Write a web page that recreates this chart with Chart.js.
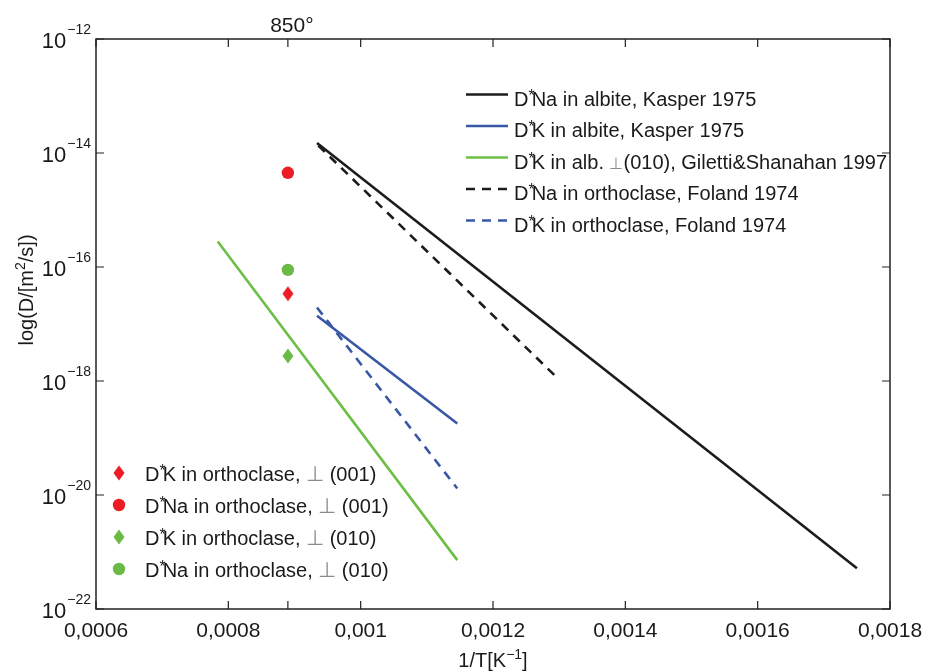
<!DOCTYPE html>
<html><head><meta charset="utf-8">
<script src="https://cdn.jsdelivr.net/npm/chart.js@4/dist/chart.umd.min.js"></script>
<style>html,body{margin:0;background:#fff}#wrap{width:928px;height:671px}</style>
</head><body><div id="wrap"><canvas id="c"></canvas></div>
<script>
const xTicks = [0.0006, 0.0008, 0.001, 0.0012, 0.0014, 0.0016, 0.0018];
const yTicks = [1e-22, 1e-20, 1e-18, 1e-16, 1e-14, 1e-12];
const yExp = ['−22', '−20', '−18', '−16', '−14', '−12'];
const x850 = 0.00089;

// Arrhenius lines, end points
const naAlbiteX = [0.000934, 0.00175];
const naAlbiteY = [1.5e-14, 5.2e-22];
const kAlbiteX = [0.000934, 0.001146];
const kAlbiteY = [1.4e-17, 1.8e-19];
const kGilettiX = [0.000784, 0.001146];
const kGilettiY = [2.8e-16, 7.2e-22];
const naOrthoX = [0.000936, 0.0013];
const naOrthoY = [1.35e-14, 1.05e-18];
const kOrthoX = [0.000934, 0.001146];
const kOrthoY = [1.95e-17, 1.3e-20];

// single measurements at 850 C
const ptY = [3.4e-17, 4.5e-15, 2.75e-18, 8.9e-17];
const ptNames = ['K in orthoclase, | (001)', 'Na in orthoclase, | (001)', 'K in orthoclase, | (010)', 'Na in orthoclase, | (010)'];
const lineNames = ['Na in albite, Kasper 1975', 'K in albite, Kasper 1975', 'K in alb. |(010), Giletti&Shanahan 1997', 'Na in orthoclase, Foland 1974', 'K in orthoclase, Foland 1974'];

const BLACK = '#1c1c1c', BLUE = '#3857a6', GREEN = '#6cbf45', RED = '#ec1c24', GREEN2 = '#6bba46';
const fam = '"Liberation Sans", Arial, Helvetica, sans-serif';

function diamond(color) {
  const c = document.createElement('canvas');
  c.width = 12; c.height = 16;
  const g = c.getContext('2d');
  g.fillStyle = color;
  g.beginPath(); g.moveTo(6, 0.5); g.lineTo(11.5, 8); g.lineTo(6, 15.5); g.lineTo(0.5, 8); g.closePath(); g.fill();
  return c;
}
const redDia = diamond(RED), greenDia = diamond(GREEN2);

function pts(xs, ys) { return xs.map((x, i) => ({x: x, y: ys[i]})); }
function lineSet(label, xs, ys, color, dash) {
  return {label: label, data: pts(xs, ys), borderColor: color, borderWidth: 2.6, borderDash: dash || [], pointRadius: 0, fill: false};
}
function ptSet(label, y, color, style) {
  return {label: label, data: [{x: x850, y: y}], showLine: false, backgroundColor: color, borderColor: color,
    pointStyle: style, pointRadius: 6.2, pointBorderWidth: 0};
}

function runs(ctx, x, y, list) {
  list.forEach(r => {
    ctx.font = (r.size || 20) + 'px ' + fam;
    ctx.fillStyle = r.color || '#1a1a1a';
    ctx.fillText(r.t, x, y + (r.dy || 0));
    x += ctx.measureText(r.t).width + (r.gap || 0);
  });
  return x;
}
function dstar(ctx, x, y, name, perp) {
  const parts = name.split('|');
  const list = [{t: 'D', gap: 0}, {t: '*', size: 16, dy: -5, gap: -3}, {t: parts[0]}];
  if (parts.length > 1) { list.push({t: '⊥', color: '#8c8c8c', size: perp}); list.push({t: parts[1]}); }
  runs(ctx, x, y, list);
}

const deco = {
  id: 'deco',
  afterDatasetsDraw(chart) {
    const ctx = chart.ctx, a = chart.chartArea, sx = chart.scales.x, sy = chart.scales.y;
    ctx.save();
    ctx.strokeStyle = '#222'; ctx.lineWidth = 1.5;
    ctx.strokeRect(a.left, a.top, a.right - a.left, a.bottom - a.top);
    ctx.lineWidth = 1.2;
    ctx.beginPath();
    xTicks.concat([x850]).forEach(v => {
      const px = sx.getPixelForValue(v);
      ctx.moveTo(px, a.bottom); ctx.lineTo(px, a.bottom - 8);
      ctx.moveTo(px, a.top); ctx.lineTo(px, a.top + 8);
    });
    yTicks.forEach(v => {
      const py = sy.getPixelForValue(v);
      ctx.moveTo(a.left, py); ctx.lineTo(a.left + 8, py);
      ctx.moveTo(a.right, py); ctx.lineTo(a.right - 8, py);
    });
    ctx.stroke();

    // y tick labels 10^n
    ctx.fillStyle = '#1a1a1a';
    ctx.textAlign = 'left'; ctx.textBaseline = 'alphabetic';
    yTicks.forEach((v, i) => {
      const py = sy.getPixelForValue(v);
      ctx.font = '14px ' + fam;
      const ew = ctx.measureText(yExp[i]).width;
      ctx.font = '22px ' + fam;
      const bw = ctx.measureText('10').width;
      const xe = a.left - 5 - ew;
      ctx.fillText('10', xe - bw - 1, py + 9);
      ctx.font = '14px ' + fam;
      ctx.fillText(yExp[i], xe, py - 5);
    });

    // top 850 label
    ctx.font = '21px ' + fam; ctx.textAlign = 'center';
    ctx.fillText('850°', sx.getPixelForValue(x850) + 4, 32);

    // x title 1/T[K^-1]
    ctx.textAlign = 'left';
    const cx = (a.left + a.right) / 2;
    ctx.font = '20px ' + fam;
    const w1 = ctx.measureText('1/T[K').width;
    ctx.font = '14px ' + fam;
    const w2 = ctx.measureText('−1').width;
    ctx.font = '20px ' + fam;
    const w3 = ctx.measureText(']').width;
    runs(ctx, cx - (w1 + w2 + w3) / 2, 667, [{t: '1/T[K', size: 20}, {t: '−1', size: 14, dy: -8}, {t: ']', size: 20}]);

    // y title log(D/[m^2/s])
    ctx.save();
    ctx.translate(33, 290); ctx.rotate(-Math.PI / 2);
    ctx.font = '20px ' + fam;
    const t1 = ctx.measureText('log(D/[m').width, t3 = ctx.measureText('/s])').width;
    ctx.font = '14px ' + fam;
    const t2 = ctx.measureText('2').width;
    runs(ctx, -(t1 + t2 + t3) / 2, 0, [{t: 'log(D/[m', size: 20}, {t: '2', size: 14, dy: -8}, {t: '/s])', size: 20}]);
    ctx.restore();

    // legend of lines
    const ls = chart.data.datasets.slice(0, 5);
    ls.forEach((d, i) => {
      const ry = 98.5 + i * 31.5;
      ctx.strokeStyle = d.borderColor; ctx.lineWidth = 2.6;
      ctx.setLineDash(d.borderDash);
      ctx.beginPath(); ctx.moveTo(466, ry - 4); ctx.lineTo(508, ry - 4); ctx.stroke();
      ctx.setLineDash([]);
      dstar(ctx, 514, ry + 7, d.label, 16);
    });
    // legend of points
    const ps = chart.data.datasets.slice(5);
    ps.forEach((d, i) => {
      const ry = 474 + i * 32;
      if (d.pointStyle === 'circle') {
        ctx.fillStyle = d.backgroundColor;
        ctx.beginPath(); ctx.arc(119, ry - 1, 6.2, 0, Math.PI * 2); ctx.fill();
      } else {
        ctx.drawImage(d.pointStyle, 113, ry - 9);
      }
      dstar(ctx, 145, ry + 7, d.label, 21);
    });
    ctx.restore();
  }
};

new Chart(document.getElementById('c'), {
  type: 'line',
  data: {
    datasets: [
      lineSet(lineNames[0], naAlbiteX, naAlbiteY, BLACK),
      lineSet(lineNames[1], kAlbiteX, kAlbiteY, BLUE),
      lineSet(lineNames[2], kGilettiX, kGilettiY, GREEN),
      lineSet(lineNames[3], naOrthoX, naOrthoY, BLACK, [9, 7]),
      lineSet(lineNames[4], kOrthoX, kOrthoY, BLUE, [9, 7]),
      ptSet(ptNames[0], ptY[0], RED, redDia),
      ptSet(ptNames[1], ptY[1], RED, 'circle'),
      ptSet(ptNames[2], ptY[2], GREEN2, greenDia),
      ptSet(ptNames[3], ptY[3], GREEN2, 'circle')
    ]
  },
  options: {
    responsive: true, maintainAspectRatio: false, animation: false,
    layout: {padding: {left: 0, right: 38, top: 39, bottom: 0}},
    plugins: {legend: {display: false}, tooltip: {enabled: false}},
    scales: {
      x: {
        type: 'linear', min: 0.0006, max: 0.0018,
        afterBuildTicks: s => { s.ticks = xTicks.map(v => ({value: v})); },
        afterFit: s => { s.height = 62; s.paddingLeft = 0; s.paddingRight = 0; },
        grid: {display: false, drawTicks: false}, border: {display: false},
        ticks: {padding: 10, color: '#1a1a1a', font: {family: fam, size: 21}, maxRotation: 0,
          callback: v => String(parseFloat(v.toFixed(4))).replace('.', ',')}
      },
      y: {
        type: 'logarithmic', min: 1e-22, max: 1e-12,
        afterBuildTicks: s => { s.ticks = yTicks.map(v => ({value: v})); },
        afterFit: s => { s.width = 96; },
        grid: {display: false, drawTicks: false}, border: {display: false},
        ticks: {display: false}
      }
    }
  },
  plugins: [deco]
});
</script>
</body></html>
